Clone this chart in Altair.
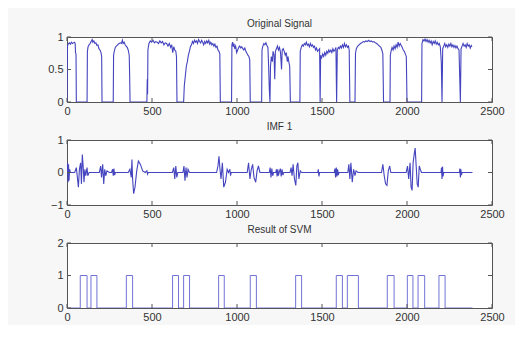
import altair as alt
import pandas as pd

# ---------------- data ----------------
sig_x = [0, 3, 8, 14, 20, 26, 32, 38, 44, 48, 50, 53, 55,
         118, 120, 124, 130, 136, 142, 148, 152, 158, 164, 170, 176, 182, 188, 194, 200, 204, 206,
         272, 274, 278, 284, 290, 298, 306, 314, 320, 326, 330, 336, 342, 348, 354, 360, 366, 368, 371,
         470, 472, 474, 476, 482, 490, 498, 506, 514, 522, 530, 538, 546, 554, 562, 570, 578, 586, 594,
         602, 610, 616, 622, 628, 634, 640, 644, 647,
         686, 690, 696, 702, 708, 714, 720, 726, 732, 738, 744, 750, 756, 762, 768, 774, 780, 786, 792,
         798, 804, 810, 816, 822, 828, 834, 840, 846, 852, 858, 864, 870, 876, 882, 888, 894, 899, 902,
         968, 970, 974, 978, 982, 986, 992, 998, 1004, 1010, 1016, 1022, 1028, 1034, 1040, 1046, 1052,
         1058, 1064, 1070, 1075, 1078,
         1145, 1147, 1152, 1158, 1164, 1170, 1176, 1182, 1186, 1190, 1194, 1197, 1202, 1208, 1212, 1218,
         1222, 1226, 1232, 1238, 1244, 1250, 1256, 1262, 1266, 1272, 1278, 1284, 1290, 1296, 1300, 1306,
         1310, 1314,
         1370, 1372, 1378, 1384, 1390, 1396, 1402, 1408, 1414, 1420, 1426, 1432, 1438, 1444, 1450, 1456,
         1462, 1468, 1474, 1480, 1486, 1489, 1492, 1498, 1504, 1510, 1516, 1522, 1528, 1534, 1540, 1546,
         1552, 1558, 1564, 1570, 1576, 1582, 1586, 1590, 1596, 1602, 1608, 1614, 1620, 1626, 1632, 1638,
         1644, 1650, 1656, 1660, 1664,
         1694, 1697, 1702, 1710, 1718, 1726, 1734, 1742, 1750, 1758, 1766, 1774, 1782, 1790, 1798, 1806,
         1814, 1822, 1830, 1838, 1846, 1852, 1858, 1862,
         1900, 1902, 1906, 1912, 1918, 1924, 1930, 1936, 1942, 1948, 1954, 1960, 1966, 1972, 1978, 1984,
         1990, 1996, 2000,
         2086, 2088, 2094, 2100, 2106, 2112, 2118, 2124, 2130, 2136, 2142, 2148, 2154, 2160, 2166, 2172,
         2178, 2184, 2190, 2196, 2202, 2206, 2210, 2216, 2222, 2228, 2234, 2240, 2246, 2252, 2258, 2264,
         2270, 2276, 2282, 2288, 2294, 2300, 2306, 2310, 2314, 2318, 2324, 2330, 2336, 2342, 2348, 2354,
         2360, 2366, 2372, 2378, 2382]
sig_y = [0, 0.86, 0.9, 0.91, 0.89, 0.92, 0.9, 0.91, 0.92, 0.9, 0.76, 0.74, 0,
         0, 0.78, 0.85, 0.88, 0.9, 0.93, 0.96, 0.92, 0.94, 0.9, 0.91, 0.87, 0.88, 0.82, 0.8, 0.76, 0.7, 0,
         0, 0.72, 0.78, 0.84, 0.86, 0.88, 0.9, 0.91, 0.9, 0.95, 0.9, 0.92, 0.88, 0.86, 0.84, 0.8, 0.72, 0.48, 0,
         0, 0.35, 0.12, 0.8, 0.9, 0.94, 0.92, 0.95, 0.91, 0.93, 0.92, 0.9, 0.94, 0.91, 0.93, 0.88, 0.91, 0.9, 0.86,
         0.9, 0.84, 0.88, 0.76, 0.85, 0.8, 0.78, 0.7, 0,
         0, 0.25, 0.4, 0.55, 0.62, 0.72, 0.78, 0.85, 0.88, 0.93, 0.9, 0.95, 0.92, 0.94, 0.9, 0.96, 0.93, 0.91, 0.95,
         0.92, 0.88, 0.93, 0.9, 0.94, 0.91, 0.95, 0.89, 0.92, 0.88, 0.9, 0.86, 0.89, 0.84, 0.86, 0.8, 0.78, 0.74, 0,
         0, 0.88, 0.92, 0.85, 0.9, 0.82, 0.86, 0.76, 0.8, 0.84, 0.86, 0.83, 0.85, 0.82, 0.8, 0.83, 0.78,
         0.75, 0.72, 0.7, 0.65, 0,
         0, 0.8, 0.86, 0.9, 0.88, 0.91, 0.87, 0.84, 0.55, 0.2, 0.0, 0.55, 0.7, 0.62, 0.78, 0.72,
         0.35, 0.78, 0.82, 0.86, 0.8, 0.84, 0.76, 0.5, 0.8, 0.82, 0.78, 0.72, 0.76, 0.62, 0.7, 0.6,
         0.55, 0,
         0, 0.78, 0.84, 0.88, 0.86, 0.9, 0.88, 0.92, 0.87, 0.89, 0.85, 0.9, 0.86, 0.88, 0.84, 0.86,
         0.8, 0.83, 0.78, 0.8, 0.82, 0.0, 0.72, 0.68, 0.74, 0.7, 0.76, 0.72, 0.78, 0.75, 0.8, 0.77,
         0.8, 0.76, 0.82, 0.78, 0.8, 0.84, 0.0, 0.8, 0.84, 0.82, 0.86, 0.83, 0.88, 0.84, 0.9, 0.85,
         0.88, 0.84, 0.86, 0.8, 0,
         0, 0.75, 0.82, 0.86, 0.88, 0.9, 0.91, 0.93, 0.92, 0.94, 0.93, 0.95, 0.93, 0.94, 0.92, 0.93,
         0.91, 0.9, 0.88, 0.86, 0.84, 0.8, 0.74, 0,
         0, 0.72, 0.78, 0.84, 0.8, 0.86, 0.82, 0.88, 0.84, 0.92, 0.86, 0.9, 0.87, 0.84, 0.8, 0.78,
         0.74, 0.7, 0,
         0, 0.9, 0.96, 0.94, 0.97, 0.93, 0.96, 0.92, 0.95, 0.91, 0.94, 0.88, 0.93, 0.9, 0.94, 0.89,
         0.92, 0.88, 0.9, 0.85, 0.6, 0.0, 0.82, 0.86, 0.9, 0.85, 0.88, 0.84, 0.89, 0.86, 0.9, 0.85,
         0.88, 0.84, 0.87, 0.83, 0.86, 0.82, 0.8, 0.4, 0.0, 0.82, 0.86, 0.9, 0.86, 0.88, 0.84, 0.9,
         0.86, 0.88, 0.83, 0.87, 0.85]

imf_x = [0, 3, 6, 9, 12, 15, 20, 45, 55, 62, 67, 73, 80, 85, 90, 95, 100, 105, 110, 118, 122, 130,
         190, 198, 203, 210, 216, 222, 228, 235, 250, 262, 268, 272, 276, 280, 285,
         360, 370, 378, 382, 386, 392, 400, 410, 420, 432, 445, 460, 470, 474, 478,
         620, 628, 634, 640, 646, 652, 682, 688, 694, 700, 706, 712, 720,
         880, 888, 894, 900, 906, 914, 922, 932, 942, 950, 958, 962, 966,
         1060, 1068, 1076, 1084, 1092, 1100, 1110, 1118, 1126, 1135,
         1190, 1195, 1200, 1205, 1210, 1215, 1228, 1232, 1236, 1240, 1244, 1248, 1255, 1260, 1265,
         1270, 1275, 1312, 1318, 1324, 1330, 1338, 1346, 1352, 1358, 1364, 1372, 1380,
         1475, 1478, 1482, 1486, 1572, 1576, 1580, 1584, 1588, 1592, 1596, 1600,
         1652, 1658, 1664, 1670, 1678, 1686, 1694, 1700, 1712,
         1850, 1858, 1866, 1874, 1882, 1890, 1898, 1905,
         1995, 2003, 2010, 2018, 2024, 2030, 2036, 2042, 2048, 2054, 2060, 2066, 2072, 2078, 2085,
         2200, 2203, 2206, 2209, 2212, 2216, 2308, 2311, 2314, 2317, 2320, 2324, 2385]
imf_y = [0, 0.3, -0.3, 0.25, -0.25, 0.1, 0, 0, 0.15, -0.2, -0.45, 0.1, 0.3, -0.35, 0.55, 0.2, -0.3, 0.1, -0.1, 0.15, -0.1, 0,
         0, 0.2, -0.15, 0.25, -0.35, 0.1, -0.1, 0.05, 0, 0, 0.1, -0.1, 0.12, -0.08, 0,
         0, 0.1, -0.15, 0.4, -0.2, -0.65, -0.45, 0.05, 0.35, 0.25, 0.05, 0, 0.05, -0.05, 0,
         0, 0.15, -0.2, 0.2, -0.15, 0, 0, 0.2, -0.25, 0.15, -0.15, 0.1, 0,
         0, 0.2, 0.5, 0.1, -0.2, 0.3, -0.45, -0.3, 0.1, 0, 0.1, -0.1, 0,
         0, 0.3, -0.2, 0.1, 0.25, -0.15, -0.3, 0.05, 0.2, 0,
         0, 0.15, -0.15, 0.12, -0.1, 0, 0, 0.1, -0.12, 0.1, -0.1, 0, 0.12, -0.12, 0.1,
         -0.08, 0, 0, 0.15, -0.1, 0.25, -0.2, -0.4, 0.2, 0.3, -0.2, 0.05, 0,
         0, 0.1, -0.12, 0, 0, 0.12, -0.15, 0.15, -0.12, 0.1, -0.08, 0,
         0, 0.25, -0.2, 0.3, -0.3, 0.1, -0.1, 0.05, 0,
         0, 0.25, -0.1, -0.35, -0.4, 0.05, 0.2, 0,
         0, 0.2, -0.2, 0.3, -0.45, -0.55, 0.3, 0.55, 0.75, 0.2, -0.35, -0.45, 0.2, 0.1, 0,
         0, 0.15, -0.2, 0.18, -0.12, 0, 0, 0.12, -0.15, 0.1, -0.08, 0, 0]

svm_start = [78, 141, 349, 621, 686, 892, 1078, 1345, 1584, 1649, 1884, 2002, 2065, 2188]
svm_end = [118, 176, 386, 656, 721, 925, 1114, 1380, 1620, 1714, 1924, 2035, 2104, 2224]
svm_last = 2385

x_ticks = [0, 500, 1000, 1500, 2000, 2500]
titles = ["Original Signal", "IMF 1", "Result of SVM"]
y_domains = [[0, 1], [-1, 1], [0, 2]]
y_ticks = [[0, 0.5, 1], [-1, 0, 1], [0, 1, 2]]

# ---------------- tables ----------------
df_sig = pd.DataFrame({"x": sig_x, "y": sig_y})
df_sig["i"] = range(len(df_sig))
df_imf = pd.DataFrame({"x": imf_x, "y": imf_y})
df_imf["i"] = range(len(df_imf))
svx, svy = [0], [0]
for s, e in zip(svm_start, svm_end):
    svx += [s, s, e, e]
    svy += [0, 1, 1, 0]
svx.append(svm_last)
svy.append(0)
df_svm = pd.DataFrame({"x": svx, "y": svy})
df_svm["i"] = range(len(df_svm))

W, H = 425, 65
LINE = "#4444bf"
AX = "#555555"


def panel(df, k, color, width):
    xs = alt.Scale(domain=[0, 2500], nice=False, zero=False)
    ys = alt.Scale(domain=y_domains[k], nice=False, zero=False)
    xax = alt.Axis(values=x_ticks, ticks=False, grid=False, domain=False,
                   title=None, labelPadding=3, labelFontSize=11,
                   labelColor="#333333", labelFont="Liberation Sans",
                   minExtent=14, maxExtent=14, format="d",
                   labelFlush=False, labelOverlap=False)
    yax = alt.Axis(values=y_ticks[k], ticks=False, grid=False, domain=False,
                   title=None, labelPadding=4, labelFontSize=11,
                   labelColor="#333333", labelFont="Liberation Sans",
                   minExtent=22, maxExtent=22, labelFlush=False,
                   labelOverlap=False, labelBound=False, format="~g")
    X = alt.X("x:Q", scale=xs, axis=xax)
    Y = alt.Y("y:Q", scale=ys, axis=yax)
    line = alt.Chart(df).mark_line(color=color, strokeWidth=width, clip=True).encode(
        x=X, y=Y, order="i:Q")
    dfxt = pd.DataFrame({"x": x_ticks})
    tick_top = alt.Chart(dfxt).mark_rule(color=AX, strokeWidth=1).encode(
        x=X, y=alt.value(0), y2=alt.value(4))
    tick_bot = alt.Chart(dfxt).mark_rule(color=AX, strokeWidth=1).encode(
        x=X, y=alt.value(H - 4), y2=alt.value(H))
    dfyt = pd.DataFrame({"y": y_ticks[k]})
    tick_l = alt.Chart(dfyt).mark_rule(color=AX, strokeWidth=1).encode(
        y=Y, x=alt.value(0), x2=alt.value(4))
    tick_r = alt.Chart(dfyt).mark_rule(color=AX, strokeWidth=1).encode(
        y=Y, x=alt.value(W - 4), x2=alt.value(W))
    return alt.layer(line, tick_top, tick_bot, tick_l, tick_r).properties(
        width=W, height=H,
        title=alt.TitleParams(titles[k], fontSize=10, fontWeight="normal", color="#333333",
                              font="Liberation Sans", offset=2, anchor="middle"),
    )


chart = alt.vconcat(
    panel(df_sig, 0, LINE, 1.1),
    panel(df_imf, 1, LINE, 1.1),
    panel(df_svm, 2, "#7272d6", 1),
    spacing=4,
).properties(
    padding={"left": 36, "top": 10, "right": 10, "bottom": 2},
    background="#f7f7f7",
).configure_view(stroke=AX, strokeWidth=1, fill="#ffffff")

chart.save("out.html", embed_options={"renderer": "svg", "actions": False})
